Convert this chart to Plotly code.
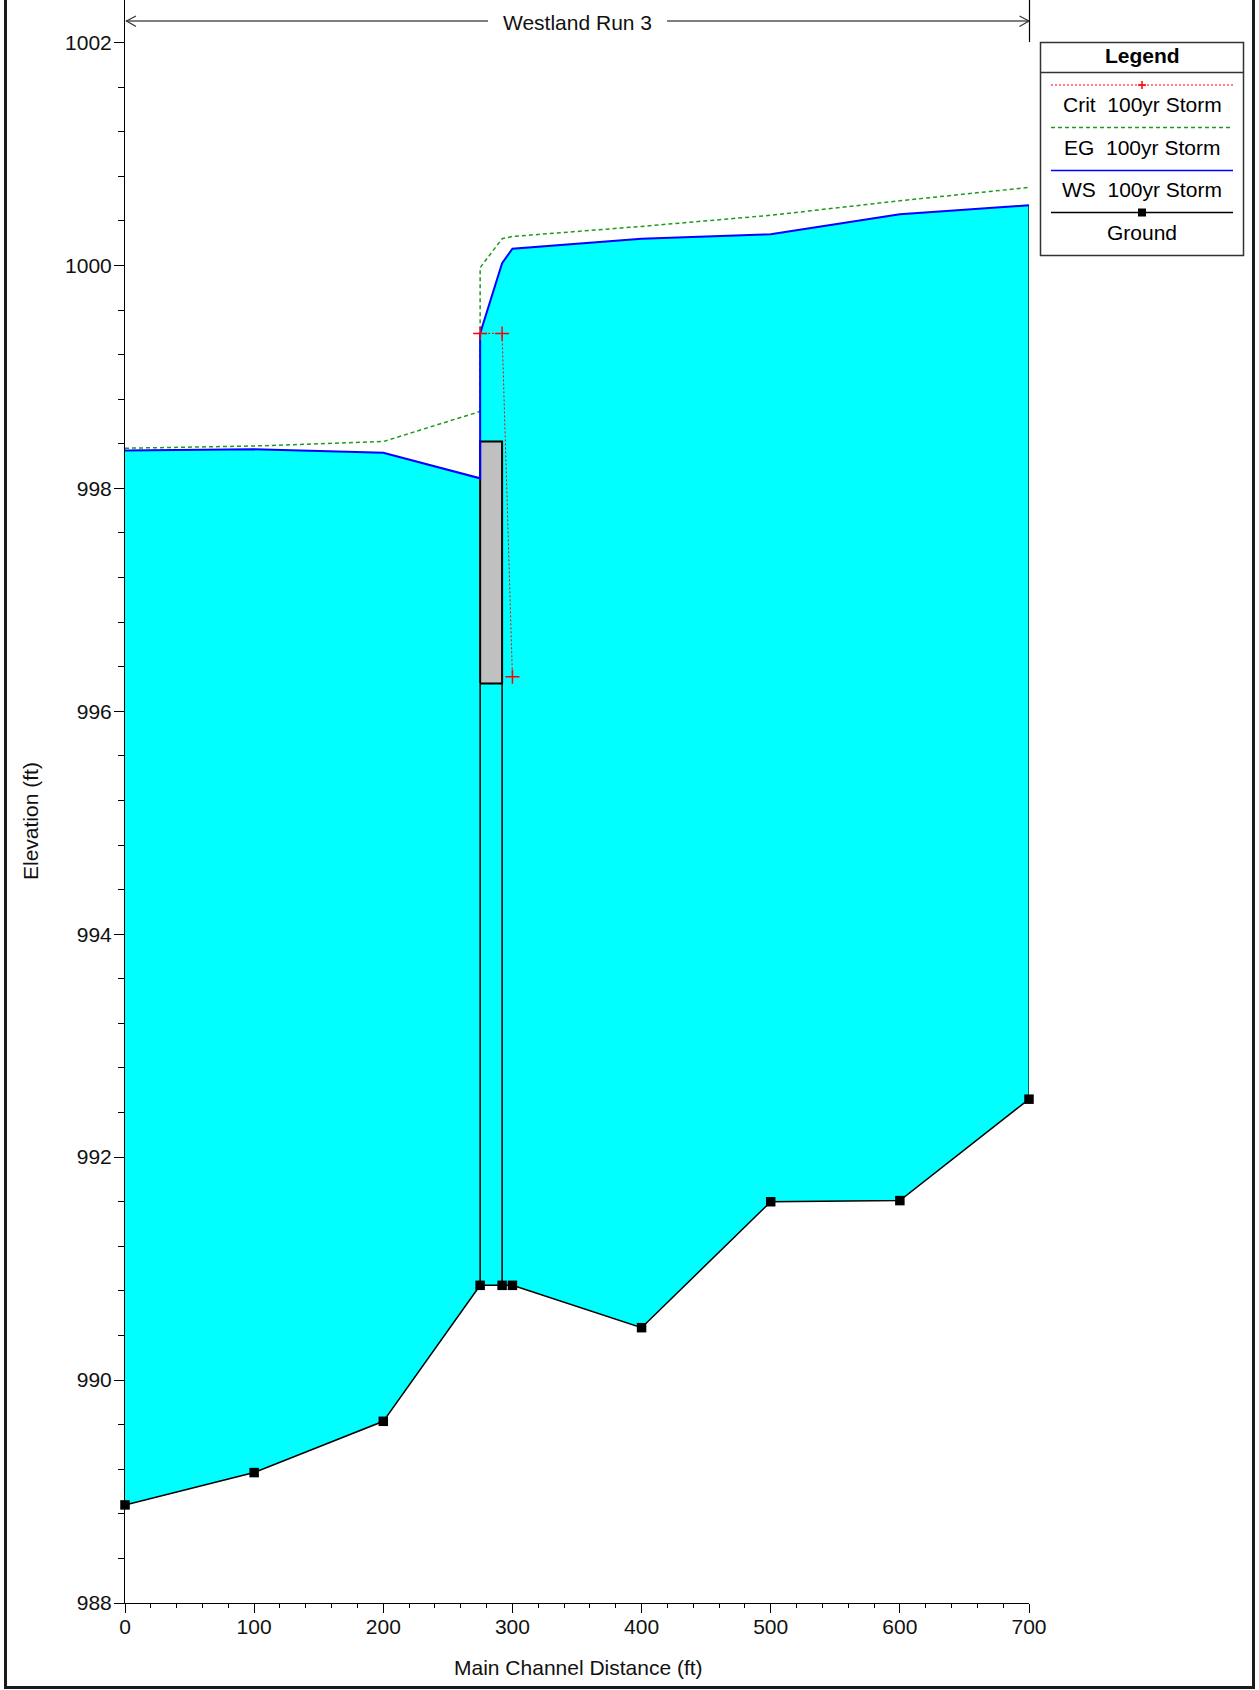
import plotly.graph_objects as go

# ---------------- data ----------------
ground_x = [0, 100, 200, 275, 292, 300, 400, 500, 600, 700]
ground_z = [988.88, 989.17, 989.63, 990.85, 990.85, 990.85, 990.47, 991.60, 991.61, 992.52]

ws_x = [0, 100, 200, 275, 275, 292, 300, 400, 500, 600, 700]
ws_z = [998.34, 998.35, 998.32, 998.09, 999.39, 1000.02, 1000.15, 1000.24, 1000.28, 1000.46, 1000.54]

eg_x = [0, 100, 200, 275, 275, 292, 300, 400, 500, 600, 700]
eg_z = [998.36, 998.38, 998.42, 998.69, 999.98, 1000.24, 1000.26, 1000.35, 1000.45, 1000.58, 1000.70]

crit_x = [275, 292, 300]
crit_z = [999.39, 999.39, 996.31]

deck_x = [275, 292]          # bridge deck faces
deck_z = [996.25, 998.42]    # low chord, high chord

x_ticks = [0, 100, 200, 300, 400, 500, 600, 700]
y_ticks = [988, 990, 992, 994, 996, 998, 1000, 1002]

title_text = "Westland Run 3"
legend_items = ["Crit\u00a0\u00a0100yr Storm", "EG\u00a0\u00a0100yr Storm", "WS\u00a0\u00a0100yr Storm", "Ground"]

# ---------------- layout geometry ----------------
W, H = 1259, 1690
L, R, T, B = 125, 230, 0, 87
PW, PH = W - L - R, H - T - B
FONT = "Liberation Sans, Arial, sans-serif"


def xp(p):
    return (p - L) / PW


def yp(p):
    return (H - B - p) / PH


fig = go.Figure()

# water fill (between WS and ground)
fig.add_trace(go.Scatter(
    x=ws_x + ground_x[::-1], y=ws_z + ground_z[::-1],
    fill="toself", fillcolor="#00FFFF", mode="lines",
    line=dict(width=0, color="#00FFFF"), hoverinfo="skip", showlegend=False))

# right end line
fig.add_trace(go.Scatter(x=[ground_x[-1], ws_x[-1]], y=[ground_z[-1], ws_z[-1]],
                         mode="lines", line=dict(color="black", width=1.2), showlegend=False))

# bridge abutment lines (ground to low chord)
for bx in deck_x:
    gz = ground_z[ground_x.index(bx)]
    fig.add_trace(go.Scatter(x=[bx, bx], y=[gz, deck_z[0]], mode="lines",
                             line=dict(color="black", width=1.5), showlegend=False))

# bridge deck
fig.add_trace(go.Scatter(
    x=[deck_x[0], deck_x[1], deck_x[1], deck_x[0], deck_x[0]],
    y=[deck_z[0], deck_z[0], deck_z[1], deck_z[1], deck_z[0]],
    fill="toself", fillcolor="#C0C0C0", mode="lines",
    line=dict(color="black", width=2), showlegend=False))

# EG
fig.add_trace(go.Scatter(x=eg_x, y=eg_z, mode="lines",
                         line=dict(color="#1E9A1E", width=1.5, dash="4px,3px"), showlegend=False))
# WS
fig.add_trace(go.Scatter(x=ws_x, y=ws_z, mode="lines",
                         line=dict(color="#0000FF", width=2), showlegend=False))
# Crit
fig.add_trace(go.Scatter(x=crit_x, y=crit_z, mode="lines+markers",
                         line=dict(color="#FF0000", width=1, dash="2px,2px"),
                         marker=dict(symbol="cross-thin", size=10, line=dict(color="#FF0000", width=1.5)),
                         showlegend=False))
# Ground
fig.add_trace(go.Scatter(x=ground_x, y=ground_z, mode="lines+markers",
                         line=dict(color="black", width=1.5),
                         marker=dict(symbol="square", size=9.5, color="black"),
                         cliponaxis=False, showlegend=False))

shapes = []
annotations = []

# outer frame
shapes.append(dict(type="rect", xref="paper", yref="paper",
                   x0=xp(5.5), x1=xp(1253.5), y0=yp(1687.5), y1=yp(-30),
                   line=dict(color="#1a1a1a", width=3)))

# title arrow
gray = "#555555"
shapes.append(dict(type="line", xref="paper", yref="paper", x0=xp(126), x1=xp(488), y0=yp(21), y1=yp(21),
                   line=dict(color=gray, width=1.5)))
shapes.append(dict(type="line", xref="paper", yref="paper", x0=xp(667), x1=xp(1029), y0=yp(21), y1=yp(21),
                   line=dict(color=gray, width=1.5)))
shapes.append(dict(type="path", xref="paper", yref="paper",
                   path=f"M {xp(136)},{yp(16)} L {xp(126.5)},{yp(21)} L {xp(136)},{yp(26.5)}",
                   line=dict(color="#333333", width=1.2)))
shapes.append(dict(type="path", xref="paper", yref="paper",
                   path=f"M {xp(1019.5)},{yp(16)} L {xp(1029)},{yp(21)} L {xp(1019.5)},{yp(26.5)}",
                   line=dict(color="#333333", width=1.2)))
shapes.append(dict(type="line", xref="paper", yref="paper", x0=xp(1029.5), x1=xp(1029.5), y0=yp(0), y1=yp(42),
                   line=dict(color="black", width=1.2)))
annotations.append(dict(text=title_text, xref="paper", yref="paper", x=xp(577.5), y=yp(22.5),
                        xanchor="center", yanchor="middle", showarrow=False,
                        font=dict(family=FONT, size=21, color="#111111")))

# axis titles
annotations.append(dict(text="Elevation (ft)", xref="paper", yref="paper", x=xp(30), y=yp(821),
                        xanchor="center", yanchor="middle", showarrow=False, textangle=-90,
                        font=dict(family=FONT, size=21, color="#111111")))
annotations.append(dict(text="Main Channel Distance (ft)", xref="paper", yref="paper", x=xp(578), y=yp(1667.5),
                        xanchor="center", yanchor="middle", showarrow=False,
                        font=dict(family=FONT, size=21, color="#111111")))

# legend box
lx0, lx1, ly0, ly1 = 1040.5, 1243.5, 42.5, 255.5
shapes.append(dict(type="rect", xref="paper", yref="paper", x0=xp(lx0), x1=xp(lx1), y0=yp(ly1), y1=yp(ly0),
                   line=dict(color="#333333", width=1.5), fillcolor="white"))
shapes.append(dict(type="line", xref="paper", yref="paper", x0=xp(lx0), x1=xp(lx1), y0=yp(72.5), y1=yp(72.5),
                   line=dict(color="#333333", width=1.5)))
annotations.append(dict(text="<b>Legend</b>", xref="paper", yref="paper", x=xp(1142), y=yp(56),
                        xanchor="center", yanchor="middle", showarrow=False,
                        font=dict(family=FONT, size=21, color="black")))
cx = 1142
sample_y = [85, 127.5, 170.5, 212.5]
text_y = [104, 147, 189, 232]
styles = [dict(color="#FF0000", width=1, dash="2px,2px"),
          dict(color="#1E9A1E", width=1.5, dash="4px,3px"),
          dict(color="#0000FF", width=1.5),
          dict(color="black", width=1.5)]
for sy, ty, st, lab in zip(sample_y, text_y, styles, legend_items):
    shapes.append(dict(type="line", xref="paper", yref="paper", x0=xp(1051), x1=xp(1233),
                       y0=yp(sy), y1=yp(sy), line=st))
    annotations.append(dict(text=lab, xref="paper", yref="paper", x=xp(cx), y=yp(ty),
                            xanchor="center", yanchor="middle", showarrow=False,
                            font=dict(family=FONT, size=21, color="black")))
# legend crit marker (+)
shapes.append(dict(type="line", xref="paper", yref="paper", x0=xp(cx - 4), x1=xp(cx + 4),
                   y0=yp(sample_y[0]), y1=yp(sample_y[0]), line=dict(color="#FF0000", width=1.5)))
shapes.append(dict(type="line", xref="paper", yref="paper", x0=xp(cx), x1=xp(cx),
                   y0=yp(sample_y[0] - 4), y1=yp(sample_y[0] + 4), line=dict(color="#FF0000", width=1.5)))
# legend ground square
shapes.append(dict(type="rect", xref="paper", yref="paper", x0=xp(cx - 4), x1=xp(cx + 4),
                   y0=yp(sample_y[3] + 4), y1=yp(sample_y[3] - 4), fillcolor="black",
                   line=dict(color="black", width=0)))

y_top = 1002 + 42.5 / ((1603 - 42.5) / 14)

fig.update_layout(
    width=W, height=H,
    margin=dict(l=L, r=R, t=T, b=B, pad=0),
    paper_bgcolor="white", plot_bgcolor="white",
    font=dict(family=FONT, size=21, color="#111111"),
    showlegend=False,
    shapes=shapes, annotations=annotations,
    xaxis=dict(range=[0, 700], tickvals=x_ticks, ticktext=[str(v) for v in x_ticks],
               showgrid=False, zeroline=False, showline=True, linecolor="black", linewidth=1,
               ticks="outside", ticklen=9, tickwidth=1, tickcolor="black",
               ticklabelstandoff=-4,
               minor=dict(dtick=20, ticks="outside", ticklen=4, tickwidth=1, tickcolor="black", showgrid=False),
               tickfont=dict(family=FONT, size=21, color="#111111")),
    yaxis=dict(range=[988, y_top], tickvals=y_ticks, ticktext=[str(v) for v in y_ticks],
               showgrid=False, zeroline=False, showline=True, linecolor="black", linewidth=1,
               ticks="outside", ticklen=10, tickwidth=1, tickcolor="black",
               ticklabelstandoff=-2,
               minor=dict(dtick=0.4, tick0=988, ticks="outside", ticklen=6, tickwidth=1, tickcolor="black", showgrid=False),
               tickfont=dict(family=FONT, size=21, color="#111111")),
)

fig.write_html("out.html",
               config={"displayModeBar": False},
               post_script="document.body.style.margin='0';document.body.style.padding='0';"
                           "document.documentElement.style.overflow='hidden';")
